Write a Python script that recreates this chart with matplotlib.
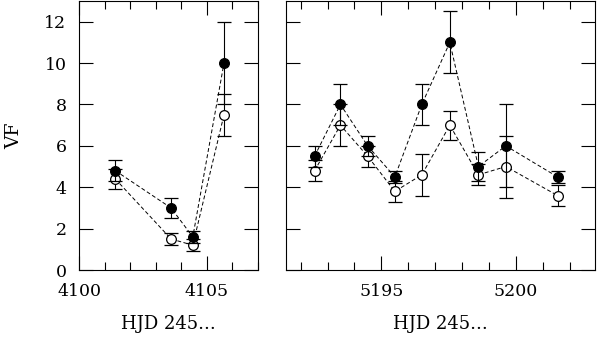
import matplotlib
matplotlib.use("Agg")
import matplotlib.pyplot as plt
from matplotlib.ticker import MultipleLocator

# left panel (HJD 2454100+)
t1 = [4101.42, 4103.6, 4104.45, 4105.67]
vf1_filled = [4.8, 3.0, 1.6, 10.0]
err1_filled = [0.5, 0.5, 0.3, 2.0]
vf1_open = [4.4, 1.5, 1.2, 7.5]
err1_open = [0.5, 0.3, 0.3, 1.0]

# right panel (HJD 2455190+)
t2 = [5192.52, 5193.48, 5194.49, 5195.5, 5196.5, 5197.54, 5198.6, 5199.62, 5201.54]
vf2_filled = [5.5, 8.0, 6.0, 4.5, 8.0, 11.0, 5.0, 6.0, 4.5]
err2_filled = [0.5, 1.0, 0.5, 0.3, 1.0, 1.5, 0.7, 2.0, 0.3]
vf2_open = [4.8, 7.0, 5.5, 3.8, 4.6, 7.0, 4.6, 5.0, 3.6]
err2_open = [0.5, 1.0, 0.5, 0.5, 1.0, 0.7, 0.5, 1.5, 0.5]

plt.rcParams['font.family'] = ['DejaVu Serif']

fig = plt.figure(figsize=(6, 3.39), dpi=100)
ax1 = fig.add_axes([0.1317, 0.2035, 0.2983, 0.7935])
ax2 = fig.add_axes([0.4767, 0.2035, 0.515, 0.7935])


def draw(ax, t, yf, ef, yo, eo):
    for y, e, fc, z in [(yo, eo, 'white', 2), (yf, ef, 'black', 3)]:
        ax.errorbar(t, y, yerr=e, fmt='o', color='black', mfc=fc, mec='black',
                    ms=7, mew=0.9, elinewidth=0.8, capsize=5, capthick=0.8, zorder=z)
        ax.plot(t, y, color='black', lw=0.7, ls=(0, (4, 2.5)), zorder=z - 0.5)
    ax.set_ylim(0, 13)
    ax.yaxis.set_major_locator(MultipleLocator(2))
    ax.xaxis.set_major_locator(MultipleLocator(5))
    ax.xaxis.set_minor_locator(MultipleLocator(1))
    ax.tick_params(which='both', direction='in', top=True, right=True,
                   labelsize=12.5, width=0.8)
    ax.tick_params(axis='x', pad=9)
    ax.tick_params(axis='y', pad=9)
    ax.tick_params(which='major', length=10)
    ax.tick_params(which='minor', length=6)
    ax.set_xlabel('HJD 245...', fontsize=13, labelpad=11)
    ax.xaxis.set_major_formatter(plt.FuncFormatter(lambda v, p: '%d' % v))
    for s in ax.spines.values():
        s.set_linewidth(0.8)


draw(ax1, t1, vf1_filled, err1_filled, vf1_open, err1_open)
ax1.set_xlim(4100, 4107)
ax1.set_ylabel('VF', fontsize=13.5, labelpad=15)

draw(ax2, t2, vf2_filled, err2_filled, vf2_open, err2_open)
ax2.set_xlim(5191.46, 5202.93)
ax2.tick_params(labelleft=False)

fig.savefig('out.png', dpi=100)
